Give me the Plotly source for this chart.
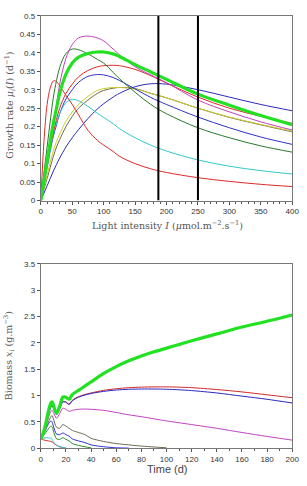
import plotly.graph_objects as go

# ---------------- data: growth rates (top) ----------------
light_I = [0, 5, 10, 15, 20, 25, 30, 40, 50, 60, 75, 90, 100, 115, 125, 150, 175, 200, 250, 300, 350, 400]

mu_red_early = [0, 0.16, 0.26, 0.305, 0.324, 0.322, 0.31, 0.285, 0.26, 0.232, 0.19, 0.163, 0.15, 0.133, 0.12, 0.10, 0.086, 0.076, 0.062, 0.052, 0.044, 0.038]
mu_cyan = [0, 0.05, 0.1, 0.14, 0.18, 0.21, 0.235, 0.265, 0.274, 0.27, 0.255, 0.236, 0.225, 0.208, 0.195, 0.17, 0.15, 0.134, 0.11, 0.093, 0.081, 0.072]
mu_dkgreen = [0, 0.075, 0.145, 0.215, 0.28, 0.325, 0.36, 0.398, 0.41, 0.408, 0.397, 0.382, 0.372, 0.347, 0.33, 0.293, 0.26, 0.235, 0.197, 0.17, 0.148, 0.131]
mu_magenta = [0, 0.05, 0.1, 0.15, 0.2, 0.26, 0.315, 0.385, 0.422, 0.44, 0.445, 0.44, 0.432, 0.41, 0.395, 0.362, 0.34, 0.319, 0.272, 0.24, 0.213, 0.191]
mu_green = [0, 0.055, 0.107, 0.16, 0.21, 0.25, 0.29, 0.342, 0.372, 0.388, 0.398, 0.402, 0.402, 0.397, 0.39, 0.368, 0.348, 0.328, 0.288, 0.258, 0.23, 0.205]
mu_red_mid = [0, 0.05, 0.1, 0.145, 0.185, 0.22, 0.25, 0.29, 0.315, 0.335, 0.352, 0.362, 0.365, 0.366, 0.365, 0.355, 0.338, 0.318, 0.28, 0.25, 0.228, 0.209]
mu_blue_mid = [0, 0.045, 0.09, 0.135, 0.175, 0.205, 0.235, 0.275, 0.3, 0.32, 0.336, 0.341, 0.34, 0.333, 0.325, 0.302, 0.279, 0.26, 0.226, 0.197, 0.172, 0.152]
mu_yellow = [0, 0.035, 0.07, 0.103, 0.135, 0.16, 0.18, 0.215, 0.24, 0.26, 0.282, 0.298, 0.303, 0.306, 0.306, 0.302, 0.29, 0.278, 0.25, 0.226, 0.206, 0.188]
mu_olive = [0, 0.03, 0.06, 0.09, 0.12, 0.145, 0.165, 0.2, 0.228, 0.25, 0.272, 0.29, 0.298, 0.304, 0.306, 0.303, 0.29, 0.278, 0.25, 0.225, 0.205, 0.186]
mu_dkblue = [0, 0.02, 0.04, 0.06, 0.08, 0.098, 0.115, 0.145, 0.17, 0.192, 0.222, 0.248, 0.262, 0.28, 0.29, 0.308, 0.316, 0.315, 0.3, 0.28, 0.26, 0.243]

vertical_I = [187, 250]

# ---------------- data: biomass (bottom) ----------------
time_d = [0, 2, 4, 6, 8, 9, 10, 12.5, 15, 17.5, 20, 22.5, 25, 30, 35, 40, 50, 60, 70, 80, 90, 100, 110, 120, 140, 160, 180, 200]
N = None
x_green = [0.18, 0.3, 0.48, 0.7, 0.86, 0.88, 0.82, 0.66, 0.8, 0.97, 0.97, 0.93, 1.02, 1.1, 1.18, 1.26, 1.42, 1.55, 1.66, 1.75, 1.83, 1.9, 1.97, 2.04, 2.17, 2.3, 2.41, 2.53]
x_red_up = [0.18, 0.3, 0.47, 0.66, 0.8, 0.82, 0.78, 0.65, 0.76, 0.89, 0.88, 0.84, 0.91, 0.98, 1.02, 1.05, 1.1, 1.13, 1.15, 1.16, 1.165, 1.165, 1.16, 1.15, 1.115, 1.07, 1.015, 0.96]
x_blue_up = [0.18, 0.3, 0.46, 0.64, 0.78, 0.8, 0.76, 0.64, 0.75, 0.88, 0.87, 0.83, 0.9, 0.97, 1.01, 1.04, 1.08, 1.105, 1.12, 1.125, 1.125, 1.12, 1.11, 1.095, 1.05, 0.99, 0.93, 0.86]
x_magenta = [0.18, 0.28, 0.42, 0.58, 0.7, 0.72, 0.68, 0.57, 0.66, 0.76, 0.74, 0.7, 0.72, 0.74, 0.745, 0.74, 0.72, 0.68, 0.635, 0.6, 0.56, 0.52, 0.485, 0.45, 0.38, 0.3, 0.225, 0.155]
x_gray = [0.18, 0.28, 0.38, 0.5, 0.6, 0.62, 0.56, 0.4, 0.38, 0.45, 0.42, 0.38, 0.34, 0.3, 0.26, 0.19, 0.13, 0.09, 0.065, 0.043, 0.025, 0.01, N, N, N, N, N, N]
x_blue_low = [0.18, 0.26, 0.36, 0.46, 0.52, 0.5, 0.42, 0.27, 0.26, 0.29, 0.26, 0.23, 0.18, 0.14, 0.11, 0.065, 0.03, 0.01, 0.004, N, N, N, N, N, N, N, N, N]
x_dkgreen = [0.18, 0.24, 0.3, 0.37, 0.42, 0.41, 0.33, 0.18, 0.17, 0.2, 0.17, 0.14, 0.09, 0.055, 0.03, 0.008, N, N, N, N, N, N, N, N, N, N, N, N]
x_cyan = [0.18, 0.19, 0.2, 0.2, 0.19, 0.17, 0.12, 0.06, 0.03, 0.015, 0.005, N, N, N, N, N, N, N, N, N, N, N, N, N, N, N, N, N]
x_red_low = [0.18, 0.16, 0.15, 0.14, 0.13, 0.12, 0.1, 0.06, 0.03, 0.012, 0.004, N, N, N, N, N, N, N, N, N, N, N, N, N, N, N, N, N]

top_ticks = [0, 50, 100, 150, 200, 250, 300, 350, 400]
top_yticks = [0, 0.05, 0.1, 0.15, 0.2, 0.25, 0.3, 0.35, 0.4, 0.45, 0.5]
bot_ticks = [0, 20, 40, 60, 80, 100, 120, 140, 160, 180, 200]
bot_yticks = [0, 0.5, 1, 1.5, 2, 2.5, 3, 3.5]

fig = go.Figure()

top_series = [
    (mu_olive, "#6e6a45", 1),
    (mu_yellow, "#cccc30", 1),
    (mu_dkblue, "#2a2ab8", 1),
    (mu_blue_mid, "#3030c8", 1),
    (mu_cyan, "#30c8c8", 1),
    (mu_red_early, "#e02828", 1),
    (mu_red_mid, "#e02828", 1),
    (mu_dkgreen, "#2a7a2a", 1),
    (mu_magenta, "#c040c0", 1),
    (mu_green, "#22e022", 3.2),
]
for ys, col, w in top_series:
    fig.add_trace(go.Scatter(x=light_I, y=ys, mode="lines", xaxis="x", yaxis="y",
                             line=dict(color=col, width=w, shape="spline", smoothing=1),
                             showlegend=False, hoverinfo="skip"))

bot_series = [
    (x_red_low, "#e02828", 1),
    (x_cyan, "#30c8c8", 1),
    (x_dkgreen, "#2a8a2a", 1),
    (x_blue_low, "#3030d0", 1),
    (x_gray, "#6e6a55", 1),
    (x_magenta, "#c040c0", 1),
    (x_red_up, "#d02828", 1),
    (x_blue_up, "#2828c0", 1),
    (x_green, "#22e022", 3.2),
]
for ys, col, w in bot_series:
    fig.add_trace(go.Scatter(x=time_d, y=ys, mode="lines", xaxis="x2", yaxis="y2",
                             line=dict(color=col, width=w, shape="spline", smoothing=0.8),
                             connectgaps=False, showlegend=False, hoverinfo="skip"))

for v in vertical_I:
    fig.add_trace(go.Scatter(x=[v, v], y=[0, 0.5], mode="lines", xaxis="x", yaxis="y",
                             line=dict(color="black", width=2), showlegend=False, hoverinfo="skip"))

W, H = 307, 486
def py(p):
    return 1 - p / H

tickfont = dict(family="Liberation Sans, Arial, sans-serif", size=8, color="#333")
axcommon = dict(showline=True, linecolor="#777", linewidth=1, mirror=True, ticks="outside",
                ticklen=3, tickcolor="#555", showgrid=False, zeroline=False, tickfont=tickfont)

fig.update_layout(
    width=W, height=H, margin=dict(l=0, r=0, t=0, b=0),
    paper_bgcolor="white", plot_bgcolor="white",
    xaxis=dict(domain=[40 / W, 299 / W], range=[0, 400], anchor="y", tickvals=top_ticks,
               minor=dict(dtick=10, ticks="outside", ticklen=2, tickcolor="#555"), **axcommon),
    yaxis=dict(domain=[py(200.3), py(12)], range=[0, 0.5], anchor="x", tickvals=top_yticks,
               ticktext=[("%g" % v) for v in top_yticks], **axcommon),
    xaxis2=dict(domain=[40 / W, 299 / W], range=[0, 200], anchor="y2", tickvals=bot_ticks,
                minor=dict(dtick=10, ticks="outside", ticklen=2, tickcolor="#555"), **axcommon),
    yaxis2=dict(domain=[py(452.7), py(264.7)], range=[0, 3.5], anchor="x2", tickvals=bot_yticks,
                **axcommon),
)

serif = "DejaVu Serif, Liberation Serif, serif"
ann = dict(xref="paper", yref="paper", showarrow=False, xanchor="center", yanchor="middle")
fig.add_annotation(x=170 / W, y=py(225),
                   text="Light intensity <i>I</i> (<i>μ</i>mol.m<sup>−2</sup>.s<sup>−1</sup>)",
                   font=dict(family=serif, size=9.5, color="#555"), **ann)
fig.add_annotation(x=8 / W, y=py(103), textangle=-90,
                   text="Growth rate <i>μ<sub>i</sub></i>(<i>I</i>) (d<sup>−1</sup>)",
                   font=dict(family=serif, size=9.5, color="#555"), **ann)
fig.add_annotation(x=170 / W, y=py(474),
                   text="Time (d)",
                   font=dict(family="Liberation Sans, Arial, sans-serif", size=11, color="#444"), **ann)
fig.add_annotation(x=8 / W, y=py(358), textangle=-90,
                   text="Biomass <i>x<sub>i</sub></i> (g.m<sup>−3</sup>)",
                   font=dict(family=serif, size=9.5, color="#555"), **ann)

fig.write_html("out.html")
